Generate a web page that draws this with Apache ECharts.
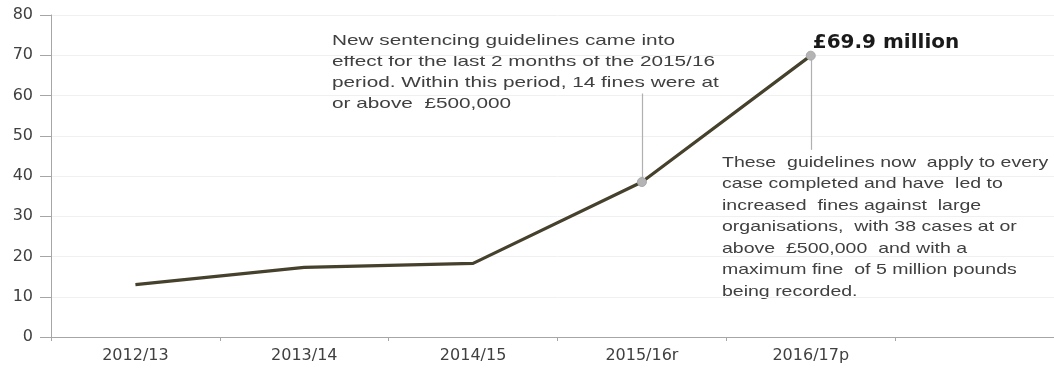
<!DOCTYPE html>
<html>
<head>
<meta charset="utf-8">
<script src="https://cdn.jsdelivr.net/npm/echarts@6/dist/echarts.min.js"></script>
<style>html,body{margin:0;padding:0;background:#fff;overflow:hidden;width:1054px;height:369px;}#c{width:1064px;height:369px;}</style>
</head>
<body>
<div id="c"></div>
<script>
var categories = ['2012/13', '2013/14', '2014/15', '2015/16r', '2016/17p', ''];
var values = [13, 17.3, 18.3, 38.5, 69.9, null];
var yTicks = [0, 10, 20, 30, 40, 50, 60, 70, 80];
var markedIdx = [3, 4];
var leaderEnds = [60.5, 46.5];
var peakLabel = '£69.9 million';
var note1 = ['New sentencing guidelines came into', 'effect for the last 2 months of the 2015/16', 'period. Within this period, 14 fines were at', 'or above  £500,000'];
var note2 = ['These  guidelines now  apply to every', 'case completed and have  led to', 'increased  fines against  large', 'organisations,  with 38 cases at or', 'above  £500,000  and with a', 'maximum fine  of 5 million pounds', 'being recorded.'];

var font = 'DejaVu Sans';
var txt = '#404040';
var chart = echarts.init(document.getElementById('c'));
var seriesData = values.map(function (v, i) {
  var d = { value: v };
  if (markedIdx.indexOf(i) >= 0) {
    d.symbol = 'circle'; d.symbolSize = 9;
    d.itemStyle = { color: '#b4b4b4', borderColor: '#a8a8a8' };
  } else {
    d.symbol = 'none';
  }
  if (i === 4) {
    d.label = { show: true, formatter: peakLabel, position: 'right', offset: [-8, -13],
      fontFamily: font, fontWeight: 'bold', fontSize: 20, color: '#1a1a1a' };
  }
  return d;
});
chart.setOption({
  animation: false,
  grid: { left: 51, right: 0, top: 15, bottom: 32, containLabel: false },
  xAxis: {
    type: 'category', data: categories, boundaryGap: true,
    axisLine: { lineStyle: { color: '#a6a6a6', width: 1 } },
    axisTick: { show: true, length: 4, lineStyle: { color: '#a6a6a6' } },
    axisLabel: { color: txt, fontFamily: font, fontSize: 16, margin: 11 },
    splitLine: { show: false }
  },
  yAxis: {
    type: 'value', min: 0, max: 80, interval: 10,
    axisLine: { show: true, lineStyle: { color: '#a6a6a6', width: 1 } },
    axisTick: { show: true, length: 11, lineStyle: { color: '#a6a6a6' } },
    axisLabel: { color: txt, fontFamily: font, fontSize: 16, margin: 18,
      formatter: function (v) { return yTicks.indexOf(v) >= 0 ? String(v) : ''; } },
    splitLine: { show: true, lineStyle: { color: '#f0f0f0', width: 1 } }
  },
  series: [{
    type: 'line', data: seriesData, connectNulls: false,
    lineStyle: { color: '#46412d', width: 3.2 },
    z: 3,
    markLine: {
      silent: true, symbol: 'none', z: 1,
      lineStyle: { color: '#b0b0b0', width: 1.2, type: 'solid' },
      label: { show: false },
      data: markedIdx.map(function (idx, k) {
        return [{ coord: [categories[idx], values[idx]] }, { coord: [categories[idx], leaderEnds[k]] }];
      })
    }
  }],
  graphic: [
    { type: 'text', x: 332, y: 30, scaleX: 1.385, style: { text: note1.join('\n'), fill: txt, font: '15px "Liberation Sans"', lineHeight: 21 } },
    { type: 'text', x: 722, y: 152, scaleX: 1.3, style: { text: note2.join('\n'), fill: txt, font: '15px "Liberation Sans"', lineHeight: 21.5 } }
  ]
});
</script>
</body>
</html>
